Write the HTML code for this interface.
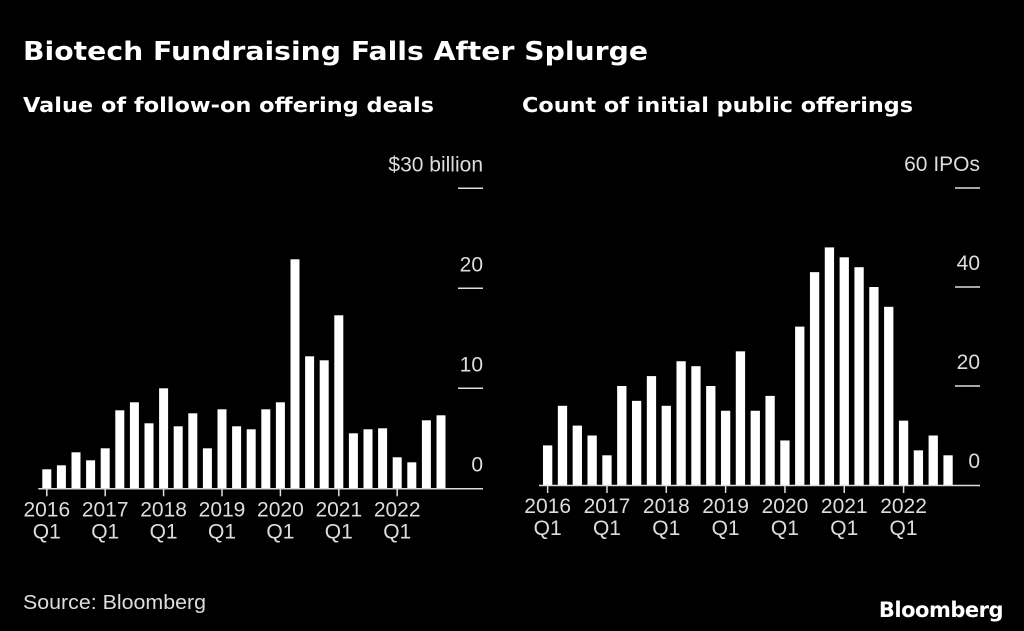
<!DOCTYPE html>
<html><head><meta charset="utf-8"><style>
html,body{margin:0;padding:0;background:#000;}
svg{display:block;}
text{font-family:"DejaVu Sans","Liberation Sans",sans-serif;}
text.tk{font-family:"Liberation Sans",sans-serif;}
</style></head><body>
<svg id="chart" width="1024" height="631" viewBox="0 0 1024 631">
<rect width="1024" height="631" fill="#000"/>
<text x="23" y="60" fill="#fff" font-size="26" font-weight="bold" textLength="625" lengthAdjust="spacingAndGlyphs">Biotech Fundraising Falls After Splurge</text>
<text x="23" y="112" fill="#fff" font-size="20" font-weight="bold" textLength="411" lengthAdjust="spacingAndGlyphs">Value of follow-on offering deals</text>
<text x="522" y="112" fill="#fff" font-size="20" font-weight="bold" textLength="391" lengthAdjust="spacingAndGlyphs">Count of initial public offerings</text>
<text class="tk" x="23" y="609" fill="#ddd" font-size="20" textLength="183" lengthAdjust="spacingAndGlyphs">Source: Bloomberg</text>
<text x="1003" y="617" fill="#fff" font-size="21" font-weight="bold" text-anchor="end" font-family="Liberation Sans" letter-spacing="-0.5">Bloomberg</text>
<g id="left"></g>
<g id="right"></g>
</svg>
<script>
const followOnValues = [1.9,2.3,3.6,2.8,4.0,7.8,8.6,6.5,10.0,6.2,7.5,4.0,7.9,6.2,5.9,7.9,8.6,22.9,13.2,12.8,17.3,5.5,5.9,6.0,3.1,2.6,6.8,7.3];
const ipoCounts = [8,16,12,10,6,20,17,22,16,25,24,20,15,27,15,18,9,32,43,48,46,44,40,36,13,7,10,6];
const yearLabels = ["2016","2017","2018","2019","2020","2021","2022"];
const leftTicks = [0,10,20,30];
const leftTickLabels = ["0","10","20","$30 billion"];
const rightTicks = [0,20,40,60];
const rightTickLabels = ["0","20","40","60 IPOs"];
const NS="http://www.w3.org/2000/svg";
function mk(tag,attrs,parent){const e=document.createElementNS(NS,tag);for(const k in attrs)e.setAttribute(k,attrs[k]);parent.appendChild(e);return e;}
function panel(g,vals,ticks,tickLabels,cfg){
  const y=v=>cfg.base-(v-0)*cfg.pxPerUnit;
  const x=i=>cfg.x0+i*cfg.step;
  vals.forEach((v,i)=>{
    const r=mk('rect',{x:x(i),y:y(v),width:cfg.bw,height:cfg.base-y(v),fill:'#fff'},g);
    
    
  });
  const ax=mk('line',{x1:cfg.x0-4,x2:cfg.axEnd,y1:cfg.base+0.5,y2:cfg.base+0.5,stroke:'#ddd','stroke-width':1.5},g);
  
  
  ticks.forEach((t,k)=>{
    if(t!==0){
      const gl=mk('line',{x1:cfg.axEnd-25,x2:cfg.axEnd,y1:y(t),y2:y(t),stroke:'#ddd','stroke-width':1.5},g);
      
      
    }
    const tx=mk('text',{class:'tk',x:cfg.axEnd,y:y(t)-17,fill:'#ddd','font-size':21,'text-anchor':'end'},g);
    tx.textContent=tickLabels[k];
    
    
  });
  yearLabels.forEach((yl,k)=>{
    const cx=x(k*4)+cfg.bw/2;
    const tk=mk('line',{x1:cx,x2:cx,y1:cfg.base,y2:cfg.base+8,stroke:'#ddd','stroke-width':1.5},g);
    
    
    const t1=mk('text',{class:'tk',x:cx,y:cfg.base+28,fill:'#ddd','font-size':21,'text-anchor':'middle'},g);
    t1.textContent=yl;
    
    
    const t2=mk('text',{class:'tk',x:cx,y:cfg.base+50,fill:'#ddd','font-size':21,'text-anchor':'middle'},g);
    t2.textContent='Q1';
    
    
  });
}
panel(document.getElementById('left'),followOnValues,leftTicks,leftTickLabels,{base:488.3,pxPerUnit:10.0,x0:42.3,step:14.6,bw:9,axEnd:483,prefix:'followon'});
panel(document.getElementById('right'),ipoCounts,rightTicks,rightTickLabels,{base:485,pxPerUnit:4.95,x0:543,step:14.83,bw:9.3,axEnd:980,prefix:'ipo'});
</script>
</body></html>
